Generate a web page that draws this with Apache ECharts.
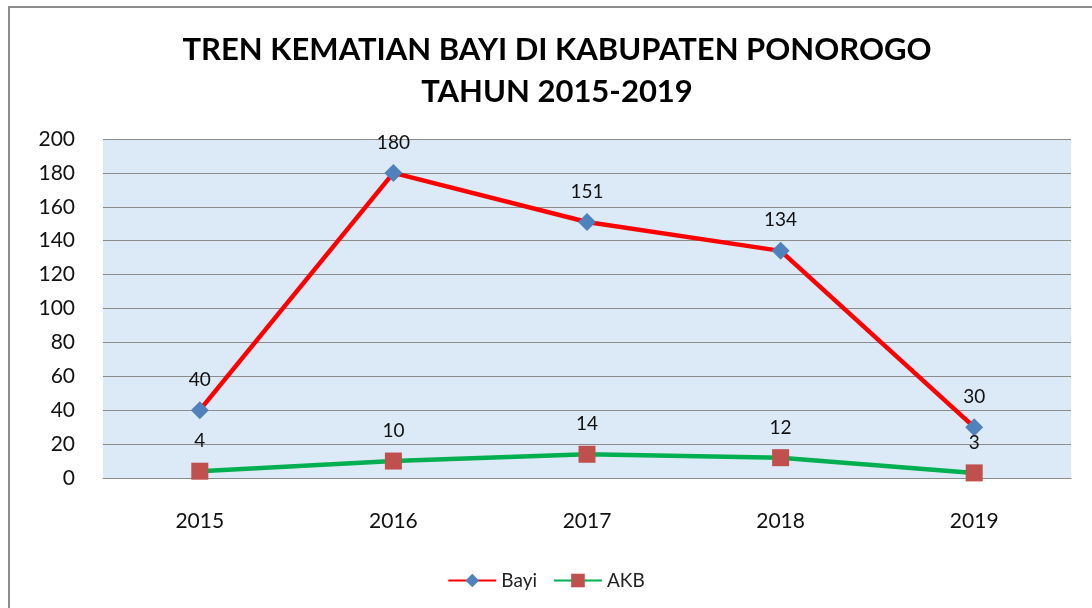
<!DOCTYPE html>
<html>
<head>
<meta charset="utf-8">
<script src="https://cdn.jsdelivr.net/npm/echarts@6/dist/echarts.min.js"></script>
<style>
  html, body { margin: 0; padding: 0; background: #fff; }
  #chart { width: 1092px; height: 608px; }
  .frame {
    position: absolute; left: 8px; top: 6px; width: 1200px; height: 700px;
    border-left: 2px solid #8c8c8c; border-top: 2px solid #8c8c8c;
    pointer-events: none;
  }
</style>
</head>
<body>
<div id="chart"></div>
<div class="frame"></div>
<script>
// data
const years = ["2015", "2016", "2017", "2018", "2019"];
const bayi = [40, 180, 151, 134, 30];
const akb = [4, 10, 14, 12, 3];

const chart = echarts.init(document.getElementById("chart"));
const font = "Lato, 'Open Sans', sans-serif";

chart.setOption({
  animation: false,
  title: {
    text: "TREN KEMATIAN BAYI DI KABUPATEN PONOROGO\nTAHUN 2015-2019",
    left: 552,
    textAlign: "center",
    top: 24,
    textStyle: {
      fontFamily: font,
      fontWeight: "bold",
      fontSize: 31,
      lineHeight: 42,
      color: "#000"
    }
  },
  legend: {
    bottom: 13,
    left: "center",
    itemWidth: 48,
    itemHeight: 17,
    itemGap: 16,
    textStyle: { fontFamily: font, fontSize: 19, color: "#222" },
    data: ["Bayi", "AKB"]
  },
  grid: {
    left: 103,
    right: 21,
    top: 139,
    bottom: 130,
    show: true,
    backgroundColor: "#dce9f6",
    borderWidth: 0
  },
  xAxis: {
    type: "category",
    data: years,
    boundaryGap: true,
    axisTick: { show: false },
    axisLine: { lineStyle: { color: "#8c8c8c", width: 1 } },
    axisLabel: { fontFamily: font, fontSize: 21, color: "#111", margin: 33 }
  },
  yAxis: {
    type: "value",
    min: 0,
    max: 200,
    interval: 20,
    axisLine: { show: false },
    axisTick: { show: false },
    splitLine: { lineStyle: { color: "#8c8c8c", width: 1 } },
    axisLabel: { fontFamily: font, fontSize: 21, color: "#111", margin: 28 }
  },
  series: [
    {
      name: "Bayi",
      type: "line",
      data: bayi,
      symbol: "diamond",
      symbolSize: 18,
      lineStyle: { color: "#ff0000", width: 4.5 },
      itemStyle: { color: "#4f81bd" },
      label: {
        show: true, position: "top", distance: 12,
        fontFamily: font, fontSize: 19, color: "#111"
      }
    },
    {
      name: "AKB",
      type: "line",
      data: akb,
      symbol: "rect",
      symbolSize: 17,
      lineStyle: { color: "#00b050", width: 4.5 },
      itemStyle: { color: "#c0504d" },
      label: {
        show: true, position: "top", distance: 12,
        fontFamily: font, fontSize: 19, color: "#111"
      }
    }
  ]
});
</script>
</body>
</html>
